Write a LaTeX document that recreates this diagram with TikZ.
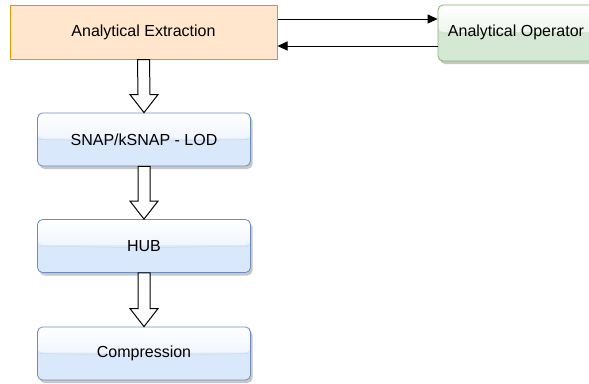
\documentclass[tikz,border=0pt]{standalone}
\usepackage{fontspec}
\setmainfont{Liberation Sans}
\usetikzlibrary{calc,shadows,arrows.meta}

\definecolor{extfill}{HTML}{FFE6CC}
\definecolor{extline}{HTML}{D79B00}
\definecolor{opfill}{HTML}{D5E8D4}
\definecolor{opline}{HTML}{82B366}
\definecolor{stepfill}{HTML}{DAE8FC}
\definecolor{stepline}{HTML}{6C8EBF}

\tikzset{
  labelfont/.style={font=\fontsize{16pt}{19pt}\selectfont},
  plainbox/.style={draw=extline, fill=extfill, line width=1pt,
    minimum width=267pt, minimum height=54pt, inner sep=0pt, labelfont},
  % rounded box with a glossy upper half and a soft shadow
  glassbox/.style={draw=#1line, fill=#1fill, line width=0.8pt,
    rounded corners=5pt, inner sep=0pt, labelfont,
    drop shadow={shadow xshift=2pt, shadow yshift=-3pt, fill=black, opacity=0.22},
    path picture={
      \shade[top color=white, bottom color=#1fill!85!white]
        (path picture bounding box.north west) rectangle
        ($(path picture bounding box.east)+(0,1pt)$);
      \draw[white!60!#1fill!80!black, line width=0.4pt, opacity=0.5]
        (path picture bounding box.west) .. controls
        ($(path picture bounding box.center)+(0,-2pt)$) ..
        (path picture bounding box.east);
    }},
  stepbox/.style={glassbox=step, minimum width=213pt, minimum height=53pt},
  flowlink/.style={line width=1pt, -{Stealth[length=10pt,width=9pt,inset=0pt]}},
  blockarrow/.style={draw=black, fill=white, line width=1pt, line join=miter}
}

\newcommand{\blockarrow}[2]{%
  % hollow block arrow from the bottom of #1 to the top of #2
  \path (#1.south) coordinate (ba-s) (#2.north) coordinate (ba-e);
  \draw[blockarrow]
    ($(ba-s)+(-6pt,0)$) -- ($(ba-e)+(-6pt,18pt)$) -- ($(ba-e)+(-14pt,18pt)$) --
    (ba-e) --
    ($(ba-e)+(14pt,18pt)$) -- ($(ba-e)+(6pt,18pt)$) -- ($(ba-s)+(6pt,0)$) -- cycle;
}

\begin{document}
\begin{tikzpicture}[x=1pt, y=-1pt]
  \useasboundingbox (0,0) rectangle (589,383);
  \fill[white] (0,0) rectangle (589,383);

  \begin{scope}
    \clip (0,0) rectangle (589,383);
    \node[glassbox=op, minimum width=158pt, minimum height=56pt] (op) at (517,33) {};
    \node[labelfont] (optext) at (516,32) {Analytical Operator};
  \end{scope}

  \node[plainbox] (ext) at (143.5,32) {Analytical Extraction};

  \node[stepbox] (snap) at (144,139.5) {SNAP/kSNAP - LOD};
  \node[stepbox] (hub) at (144,246) {HUB};
  \node[stepbox] (comp) at (144,353.5) {Compression};

  % exchange between extraction and operator
  \draw[flowlink] ($(ext.east)+(0,-13)$) -- ($(op.west)+(0,-14)$);
  \draw[flowlink] ($(op.west)+(0,13)$) -- ($(ext.east)+(0,14)$);

  % processing chain
  \blockarrow{ext}{snap}
  \blockarrow{snap}{hub}
  \blockarrow{hub}{comp}
\end{tikzpicture}
\end{document}
